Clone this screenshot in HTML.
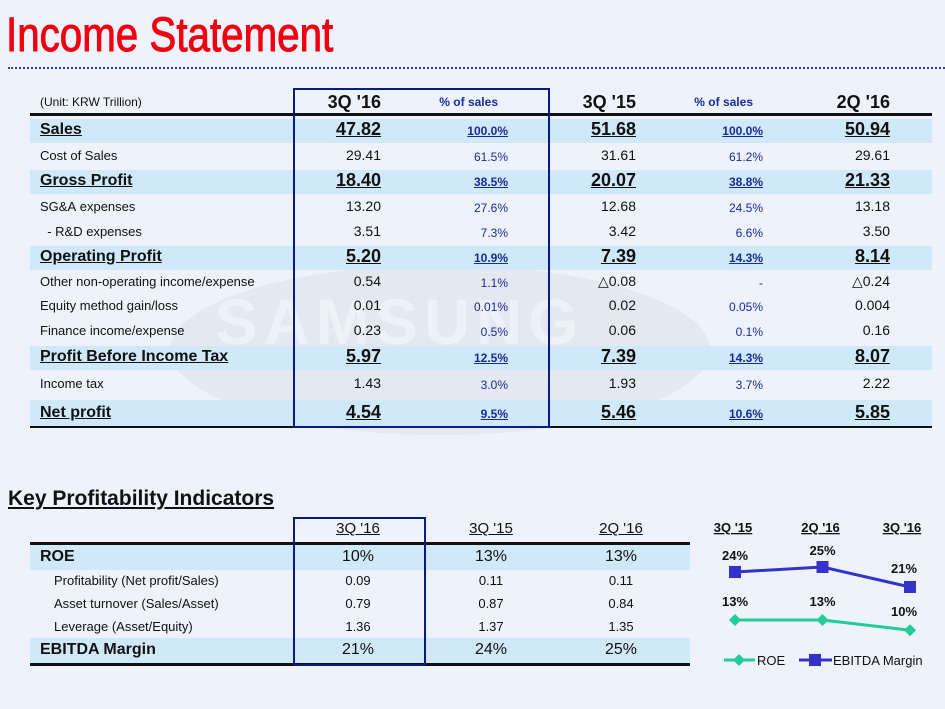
<!DOCTYPE html>
<html><head><meta charset="utf-8"><style>
body{margin:0;width:945px;height:709px;background:#eef3fb;position:relative;overflow:hidden;font-family:"Liberation Sans","DejaVu Sans",sans-serif;}
.a{position:absolute;white-space:nowrap;}
.hl{position:absolute;left:30px;width:902px;background:#cfe9f9;}
.lbl{position:absolute;left:40px;font-size:13px;color:#111;}
.b{font-weight:bold;font-size:16px;text-decoration:underline;}
.v{position:absolute;text-align:right;font-size:14px;color:#111;}
.p{position:absolute;text-align:right;font-size:12px;color:#1a2a9a;}
.bv{font-size:18px;font-weight:bold;text-decoration:underline;}
.bp{font-weight:bold;text-decoration:underline;}
</style></head><body>
<div class="a" style="left:6px;top:8px;font-size:48px;color:#f00010;transform:scaleX(0.84);transform-origin:left;-webkit-text-stroke:1px #f00010;">Income Statement</div>
<div class="a" style="left:8px;top:67px;width:937px;height:3px;border-top:2px dotted #3040a0;"></div>
<div class="a" style="left:170px;top:265px;width:540px;height:170px;border-radius:50%;background:#e3e8f1;"></div>
<div class="a" style="left:215px;top:285px;font-size:64px;font-weight:bold;color:#edf1f8;letter-spacing:6px;">SAMSUNG</div>
<div id="main"></div>
<div class="a" style="left:8px;top:487px;font-size:21px;font-weight:bold;text-decoration:underline;color:#111;">Key Profitability Indicators</div>
<div id="kpi"></div>
<svg id="chart" width="945" height="709" style="position:absolute;left:0;top:0;"></svg>
<script>
const rows=[
["(Unit: KRW Trillion)","3Q '16","% of sales","3Q '15","% of sales","2Q '16",0,"head"],
["Sales","47.82","100.0%","51.68","100.0%","50.94",1],
["Cost of Sales","29.41","61.5%","31.61","61.2%","29.61",0],
["Gross Profit","18.40","38.5%","20.07","38.8%","21.33",1],
["SG&A expenses","13.20","27.6%","12.68","24.5%","13.18",0],
["  - R&D expenses","3.51","7.3%","3.42","6.6%","3.50",0],
["Operating Profit","5.20","10.9%","7.39","14.3%","8.14",1],
["Other non-operating income/expense","0.54","1.1%","△0.08","-","△0.24",0],
["Equity method gain/loss","0.01","0.01%","0.02","0.05%","0.004",0],
["Finance income/expense","0.23","0.5%","0.06","0.1%","0.16",0],
["Profit Before Income Tax","5.97","12.5%","7.39","14.3%","8.07",1],
["Income tax","1.43","3.0%","1.93","3.7%","2.22",0],
["Net profit","4.54","9.5%","5.46","10.6%","5.85",1]];
const tops=[88,117,143,168,194,219,244,270,294,318,344,370,398,427];
const rights=[381,508,636,763,890];
let h='';
rows.forEach((r,i)=>{
 const t=tops[i],ht=tops[i+1]-t;
 if(r[6]) h+=`<div class="hl" style="top:${t+2}px;height:${ht-2}px"></div>`;
 const lt=t+ht/2;
 if(r[7]){
  h+=`<div class="lbl" style="top:${lt-8}px;font-size:12px">${r[0]}</div>`;
  [1,3,5].forEach(k=>h+=`<div class="v" style="right:${945-rights[k-1]}px;top:${lt-11}px;font-size:18px;font-weight:bold">${r[k]}</div>`);
  [2,4].forEach(k=>h+=`<div class="p" style="right:${945-rights[k-1]+10}px;top:${lt-8}px;font-weight:bold">${r[k]}</div>`);
  return;
 }
 h+=`<div class="lbl ${r[6]?'b':''}" style="top:${lt-(r[6]?9:8)}px">${r[0].replace(/ /g,'&nbsp;')}</div>`;
 [1,3,5].forEach(k=>h+=`<div class="v ${r[6]?'bv':''}" style="right:${945-rights[k-1]}px;top:${lt-(r[6]?11:9)}px">${r[k]}</div>`);
 [2,4].forEach(k=>h+=`<div class="p ${r[6]?'bp':''}" style="right:${945-rights[k-1]}px;top:${lt-6}px">${r[k]}</div>`);
});
h+=`<div class="a" style="left:30px;top:113px;width:902px;height:3px;background:#111"></div>`;
h+=`<div class="a" style="left:30px;top:426px;width:902px;height:2px;background:#111"></div>`;
h+=`<div class="a" style="left:293px;top:88px;width:253px;height:336px;border:2px solid #0a1a8a"></div>`;
document.getElementById('main').innerHTML=h;

const krows=[["ROE","10%","13%","13%",1],["Profitability (Net profit/Sales)","0.09","0.11","0.11",0],["Asset turnover (Sales/Asset)","0.79","0.87","0.84",0],["Leverage (Asset/Equity)","1.36","1.37","1.35",0],["EBITDA Margin","21%","24%","25%",1]];
const ktops=[545,570,592,615,638,664];
const kc=[358,491,621];
let k='';
["3Q '16","3Q '15","2Q '16"].forEach((s,i)=>k+=`<div class="a" style="left:${kc[i]-40}px;width:80px;text-align:center;top:520px;font-size:15px;text-decoration:underline;color:#111">${s}</div>`);
krows.forEach((r,i)=>{
 const t=ktops[i],ht=ktops[i+1]-t,m=t+ht/2;
 if(r[4]) k+=`<div class="a" style="left:30px;width:660px;top:${t}px;height:${ht}px;background:#cfe9f9"></div>`;
 k+=`<div class="a" style="left:${r[4]?40:54}px;top:${m-(r[4]?10:8)}px;font-size:${r[4]?16:13}px;${r[4]?'font-weight:bold;':''}color:#111">${r[0]}</div>`;
 [1,2,3].forEach(j=>k+=`<div class="a" style="left:${kc[j-1]-40}px;width:80px;text-align:center;top:${m-(r[4]?10:8)}px;font-size:${r[4]?16:13}px;color:#111">${r[j]}</div>`);
});
k+=`<div class="a" style="left:30px;top:542px;width:660px;height:3px;background:#111"></div>`;
k+=`<div class="a" style="left:30px;top:663px;width:660px;height:3px;background:#111"></div>`;
k+=`<div class="a" style="left:293px;top:517px;width:129px;height:145px;border:2px solid #0a1a8a"></div>`;
document.getElementById('kpi').innerHTML=k;
</script>
<script>
const periods=["3Q '15","2Q '16","3Q '16"];
const ebitda=[24,25,21];
const roe=[13,13,10];
const NS='http://www.w3.org/2000/svg';
const svg=document.getElementById('chart');
const xPos=i=>735+i*87.5;
const yE=v=>572-(v-24)*5;
const yR=v=>620-(v-13)*3.4;
function mk(tag,attrs){const e=document.createElementNS(NS,tag);for(const a in attrs)e.setAttribute(a,attrs[a]);svg.appendChild(e);return e;}
periods.forEach((p,i)=>{
 const t=mk('text',{x:xPos(i)-(i==2?8:2),y:532,'text-anchor':'middle','font-size':13,'font-weight':'bold','text-decoration':'underline',fill:'#111'});
 
 
 t.textContent=p;
});
const le=mk('polyline',{points:ebitda.map((v,i)=>xPos(i)+','+yE(v)).join(' '),fill:'none',stroke:'#3333cc','stroke-width':3});


const lr=mk('polyline',{points:roe.map((v,i)=>xPos(i)+','+yR(v)).join(' '),fill:'none',stroke:'#22cc99','stroke-width':3});


ebitda.forEach((v,i)=>{
 const r=mk('rect',{x:xPos(i)-6,y:yE(v)-6,width:12,height:12,fill:'#3333cc'});
 
 
 const t=mk('text',{x:xPos(i)+(i==2?-6:0),y:yE(v)-(i==2?14:12),'text-anchor':'middle','font-size':13,'font-weight':'bold',fill:'#111'});
 
 
 t.textContent=v+'%';
});
roe.forEach((v,i)=>{
 const x=xPos(i),y=yR(v);
 const r=mk('polygon',{points:`${x},${y-6} ${x+6},${y} ${x},${y+6} ${x-6},${y}`,fill:'#22cc99'});
 
 
 const t=mk('text',{x:x+(i==2?-6:0),y:y-14,'text-anchor':'middle','font-size':13,'font-weight':'bold',fill:'#111'});
 
 
 t.textContent=v+'%';
});
const l1=mk('line',{x1:724,y1:660,x2:755,y2:660,stroke:'#22cc99','stroke-width':3});


const m1=mk('polygon',{points:'739,654 745,660 739,666 733,660',fill:'#22cc99'});


const t1=mk('text',{x:757,y:665,'font-size':13,fill:'#111'});


t1.textContent='ROE';
const l2=mk('line',{x1:799,y1:660,x2:832,y2:660,stroke:'#3333cc','stroke-width':3});


const m2=mk('rect',{x:809,y:654,width:12,height:12,fill:'#3333cc'});


const t2=mk('text',{x:833,y:665,'font-size':13,fill:'#111'});


t2.textContent='EBITDA Margin';
</script>
</body></html>
